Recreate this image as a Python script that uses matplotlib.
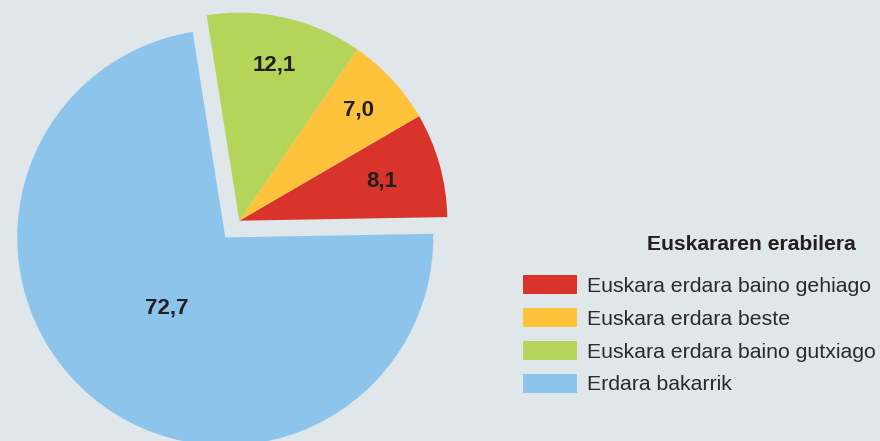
import numpy as np
import matplotlib
matplotlib.use("Agg")
import matplotlib.pyplot as plt

# Euskararen erabilera (%)
labels = ["Euskara erdara baino gehiago", "Euskara erdara beste",
          "Euskara erdara baino gutxiago", "Erdara bakarrik"]
values = [8.1, 7.0, 12.1, 72.7]
value_txt = ["8,1", "7,0", "12,1", "72,7"]
colors = ["#d9342b", "#fec23b", "#b5d45a", "#8cc4ec"]
explode_frac = [0, 0, 0, 0.105]
label_dist = [0.71, 0.78, 0.77, 0.44]

bg = "#dfe7eb"
plt.rcParams["font.family"] = ["Liberation Sans", "DejaVu Sans"]

fig = plt.figure(figsize=(8.8, 4.41), dpi=100)
fig.patch.set_facecolor(bg)
ax = fig.add_axes([0, 0, 1, 1])
ax.set_facecolor(bg)

W, H = 880, 441
cx, cy, r = 239.3, H - 220.7, 208

# pie's explode offset is in data units, not radius fractions
wedges, _ = ax.pie(values, colors=colors,
                   explode=[e * r for e in explode_frac], startangle=1,
                   counterclock=True, center=(cx, cy), radius=r,
                   wedgeprops=dict(linewidth=0))

# value labels, placed along each wedge's bisector
for w, txt, d in zip(wedges, value_txt, label_dist):
    ang = np.deg2rad((w.theta1 + w.theta2) / 2)
    x0, y0 = w.center
    ax.text(x0 + d * r * np.cos(ang), y0 + d * r * np.sin(ang), txt,
            ha="center", va="center", fontsize=16, fontweight="bold",
            color="#231f20")

ax.set_xlim(0, W)
ax.set_ylim(0, H)
ax.set_aspect("auto")
ax.axis("off")

fig.text(751 / W, 1 - 244 / H, "Euskararen erabilera", ha="center",
         va="center", fontsize=15.2, fontweight="bold", color="#231f20")

leg = ax.legend(wedges, labels, loc="upper left",
                bbox_to_anchor=(523 / W, 1 - 275 / H),
                bbox_transform=fig.transFigure, frameon=False,
                fontsize=15.3, handlelength=2.55, handleheight=1.0,
                handletextpad=0.45, labelspacing=0.57,
                borderpad=0, borderaxespad=0)
for t in leg.get_texts():
    t.set_color("#2b2b2b")

fig.savefig("out.png", dpi=100, facecolor=bg)
